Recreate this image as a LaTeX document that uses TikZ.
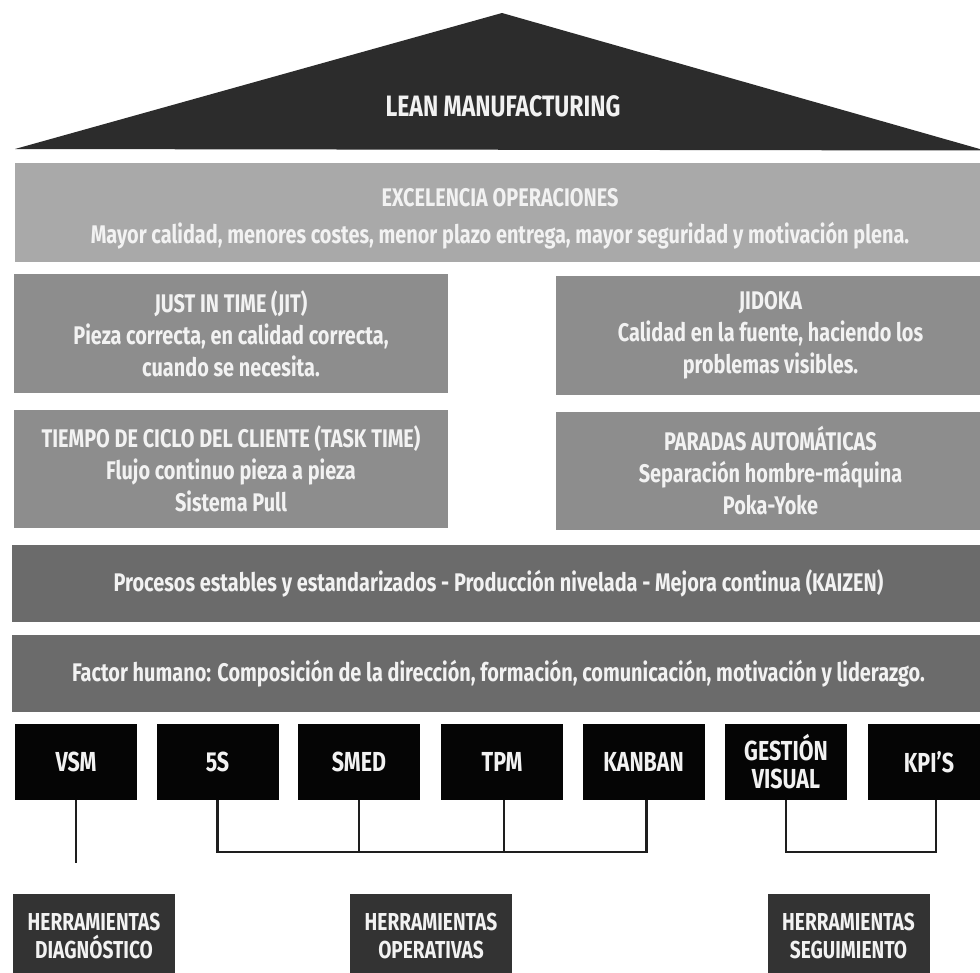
\documentclass[tikz,border=0pt]{standalone}
\usepackage{fontspec}
\setmainfont{Fira Sans}[FakeStretch=0.78]
\definecolor{tri}{HTML}{2C2C2C}
\definecolor{light}{HTML}{A9A9A9}
\definecolor{mid}{HTML}{8D8D8D}
\definecolor{dark}{HTML}{6B6B6B}
\definecolor{blk}{HTML}{050505}
\definecolor{bot}{HTML}{333333}
\definecolor{txt}{HTML}{F2F2F2}
\definecolor{conncol}{HTML}{1E1E1E}
\tikzset{
  box/.style={inner sep=0pt, align=center, text=txt,
    font=\fontsize{25.5}{32}\selectfont\bfseries},
  tool/.style={box, fill=blk, minimum width=122pt, minimum height=76pt,
    font=\fontsize{27.5}{28}\selectfont\bfseries},
  group/.style={box, fill=bot, minimum width=162pt, minimum height=84pt,
    font=\fontsize{24.5}{28}\selectfont\bfseries},
  conn/.style={draw=conncol, line width=2.5pt},
}
\begin{document}
\begin{tikzpicture}[x=1pt,y=-1pt]
\useasboundingbox (0,0) rectangle (980,972);
\clip (0,0) rectangle (980,972);
\fill[white] (0,0) rectangle (980,972);
% roof
\fill[tri] (15,149) -- (502,13) -- (985,150.5) -- cycle;
\node[box, font=\fontsize{29.5}{30}\selectfont\bfseries] (lean) at (503,106) {LEAN MANUFACTURING};
% bands
\node[box, fill=light, minimum width=970pt, minimum height=99pt] (exc) at (500,212.5)
  {\rule{0pt}{31pt}EXCELENCIA OPERACIONES\\[5pt]Mayor calidad, menores costes, menor plazo entrega, mayor seguridad y motivación plena.};
\node[box, fill=mid, minimum width=434pt, minimum height=119pt] (jit) at (231,333.5)
  {JUST IN TIME (JIT)\\Pieza correcta, en calidad correcta,\\cuando se necesita.};
\node[box, fill=mid, minimum width=429pt, minimum height=119pt] (jid) at (770.5,335.5)
  {JIDOKA\\Calidad en la fuente, haciendo los\\problemas visibles.};
\node[box, fill=mid, minimum width=434pt, minimum height=118pt] (tie) at (231,469)
  {TIEMPO DE CICLO DEL CLIENTE (TASK TIME)\\Flujo continuo pieza a pieza\\Sistema Pull};
\node[box, fill=mid, minimum width=429pt, minimum height=118pt] (par) at (770.5,471)
  {PARADAS AUTOMÁTICAS\\Separación hombre-máquina\\Poka-Yoke};
\node[box, fill=dark, minimum width=973pt, minimum height=77pt] (pro) at (498.5,583.5)
  {Procesos estables y estandarizados - Producción nivelada - Mejora continua (KAIZEN)};
\node[box, fill=dark, minimum width=973pt, minimum height=77pt] (fac) at (498.5,673.5)
  {Factor humano: Composición de la dirección, formación, comunicación, motivación y liderazgo.};
% tools
\node[tool] (vsm) at (76,762) {VSM};
\node[tool] (s5) at (217.5,762) {5S};
\node[tool] (smed) at (359,762) {SMED};
\node[tool] (tpm) at (502,762) {TPM};
\node[tool] (kan) at (643.5,762) {KANBAN};
\node[tool] (ges) at (786,762) {GESTIÓN\\VISUAL};
\node[tool] (kpi) at (929,762) {KPI'S};
% groups
\node[group] (diag) at (94,936) {HERRAMIENTAS\\DIAGNÓSTICO};
\node[group] (oper) at (431,936) {HERRAMIENTAS\\OPERATIVAS};
\node[group] (seg) at (848.5,936) {HERRAMIENTAS\\SEGUIMIENTO};
% connectors
\coordinate (vsmend) at (77,863);
\coordinate (bus) at (0,852);
\draw[conn] (vsm.south) -- (vsm.south |- vsmend);
\draw[conn] (s5.south) -- (s5.south |- bus) -| ([xshift=3pt]kan.south);
\draw[conn] (smed.south) -- (smed.south |- bus);
\draw[conn] ([xshift=2pt]tpm.south) -- ([xshift=2pt]tpm.south |- bus);
\draw[conn] (ges.south) -- (ges.south |- bus) -| ([xshift=7pt]kpi.south);
\end{tikzpicture}
\end{document}
